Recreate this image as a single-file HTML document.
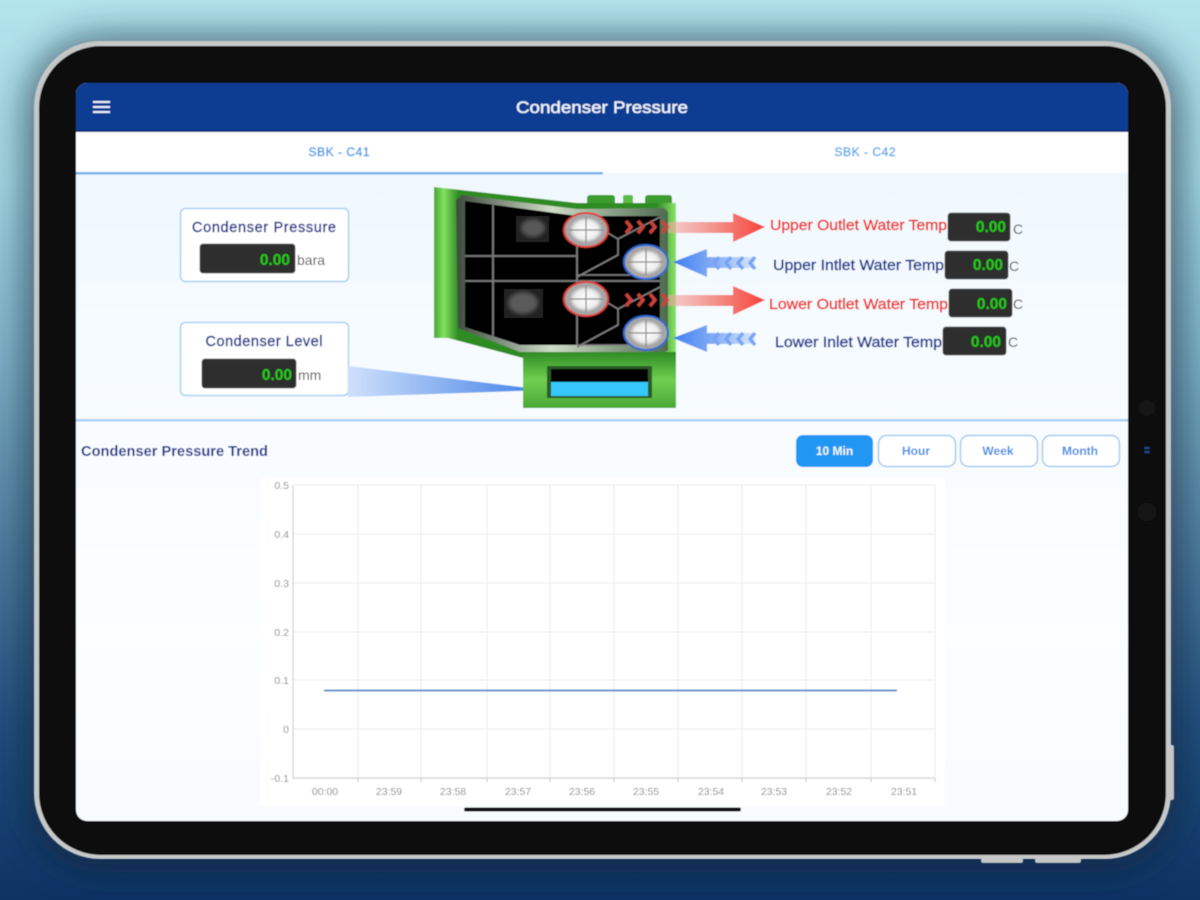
<!DOCTYPE html>
<html><head><meta charset="utf-8"><title>Condenser Pressure</title>
<style>
html,body{margin:0;padding:0;width:1200px;height:900px;overflow:hidden;background:#123a6a}
svg{display:block}
text{font-family:"Liberation Sans",sans-serif;paint-order:stroke}
.b{stroke-width:.4}
</style></head><body>
<svg width="1200" height="900" viewBox="0 0 1200 900" xmlns="http://www.w3.org/2000/svg">
<defs>
<linearGradient id="bg" x1="0" y1="0" x2="0" y2="1">
<stop offset="0" stop-color="#b3e3eb"/><stop offset=".2" stop-color="#a4d6e1"/><stop offset=".4" stop-color="#7fb0c6"/><stop offset=".6" stop-color="#527f9f"/><stop offset=".8" stop-color="#24507f"/><stop offset="1" stop-color="#0e3363"/>
</linearGradient>
<linearGradient id="content" x1="0" y1="0" x2="0" y2="1"><stop offset="0" stop-color="#edf7fe"/><stop offset=".45" stop-color="#f8fcff"/><stop offset=".75" stop-color="#fcfeff"/><stop offset="1" stop-color="#f8fcfe"/></linearGradient>
<linearGradient id="green" x1="0" y1="0" x2="1" y2="0"><stop offset="0" stop-color="#46a834"/><stop offset=".04" stop-color="#83e060"/><stop offset=".1" stop-color="#2f8c24"/><stop offset=".92" stop-color="#2f8c24"/><stop offset="1" stop-color="#8ce468"/></linearGradient>
<linearGradient id="green2" x1="0" y1="0" x2="0" y2="1"><stop offset="0" stop-color="#2f8c24"/><stop offset=".5" stop-color="#6fd050"/><stop offset="1" stop-color="#4aa836"/></linearGradient>
<linearGradient id="frame" x1="0" y1="0" x2="1" y2="0"><stop offset="0" stop-color="#3e4a3e"/><stop offset=".45" stop-color="#cfdcc8"/><stop offset="1" stop-color="#4e6a4e"/></linearGradient>
<linearGradient id="red" x1="668" y1="0" x2="765" y2="0" gradientUnits="userSpaceOnUse"><stop offset="0" stop-color="#f4a8a4" stop-opacity=".55"/><stop offset=".5" stop-color="#f48f88"/><stop offset="1" stop-color="#f6413a"/></linearGradient>
<linearGradient id="blue" x1="673" y1="0" x2="755" y2="0" gradientUnits="userSpaceOnUse"><stop offset="0" stop-color="#3f7ef4"/><stop offset=".55" stop-color="#8db2f6"/><stop offset="1" stop-color="#dbe8fb"/></linearGradient>
<linearGradient id="wedge" x1="348" y1="0" x2="545" y2="0" gradientUnits="userSpaceOnUse"><stop offset="0" stop-color="#cfe0fb"/><stop offset="1" stop-color="#3f7ee8"/></linearGradient>
<radialGradient id="glass"><stop offset="0" stop-color="#fff"/><stop offset=".7" stop-color="#eee"/><stop offset="1" stop-color="#a5a5a5"/></radialGradient>
<filter id="soft" x="-2%" y="-2%" width="104%" height="104%"><feGaussianBlur stdDeviation=".65"/></filter>
<filter id="shadow" x="-10%" y="-10%" width="120%" height="120%"><feGaussianBlur stdDeviation="18"/></filter>
<filter id="smudge"><feGaussianBlur stdDeviation="2.2"/></filter>
<g id="valve-lines" fill="none" stroke="#7d7d7d" stroke-width="1.6">
<path d="M608 233L618 239L660 217M618 239V255L577 277M577 275H660"/>
</g>
<g id="chev" fill="none" stroke-width="3.4"><path d="M0 -6L5 0L0 6M12 -6L17 0L12 6M24 -6L29 0L24 6M36 -6L41 0L36 6"/></g>
</defs>
<rect width="1200" height="900" fill="url(#bg)"/>
<rect x="26" y="36" width="1154" height="836" rx="75" fill="#0a2138" opacity=".62" filter="url(#shadow)"/>
<g filter="url(#soft)">
<!-- device -->
<rect x="1164" y="745" width="10" height="55" rx="2" fill="#c4c6c6"/>
<rect x="981" y="852" width="42" height="11" rx="2" fill="#c4c6c6"/>
<rect x="1035" y="852" width="46" height="11" rx="2" fill="#c4c6c6"/>
<rect x="34" y="41" width="1137" height="818" rx="66" fill="#c6c8c8"/>
<rect x="39" y="46" width="1127" height="809" rx="62" fill="#111"/>
<rect x="1144.500" y="447" width="5" height="2" fill="#1c4a92"/><rect x="1144.500" y="451" width="5" height="2" fill="#1c4a92"/>
<circle cx="1147" cy="512" r="9" fill="#171717"/>
<circle cx="1147" cy="408" r="8" fill="#161616"/>
<!-- screen -->
<clipPath id="scr"><rect x="76" y="83" width="1052" height="738" rx="11"/></clipPath>
<g clip-path="url(#scr)">
<rect x="76" y="83" width="1052" height="738" fill="url(#content)"/>
<rect x="76" y="83" width="1052" height="49" fill="#113e93"/>
<rect x="76" y="130" width="1052" height="2" fill="#0a3180"/>
<rect x="76" y="132" width="1052" height="41" fill="#fff"/>
<rect x="76" y="172" width="527" height="2.5" fill="#74b3ee"/>
<rect x="76" y="419" width="1052" height="2.5" fill="#a9d2f6"/>
</g>
<rect x="93" y="101" width="17" height="2" fill="#e8f0fa"/><rect x="93" y="106" width="17" height="2" fill="#e8f0fa"/><rect x="93" y="111" width="17" height="2" fill="#e8f0fa"/>
<text class="b" x="602" y="113" font-size="17" fill="#eef4fc" stroke="#eef4fc" text-anchor="middle" textLength="172" lengthAdjust="spacingAndGlyphs">Condenser Pressure</text>
<text class="b" x="339" y="156" font-size="12" fill="#4d9cec" stroke="#4d9cec" text-anchor="middle" textLength="61">SBK - C41</text>
<text class="b" x="865" y="156" font-size="12" fill="#62aaee" stroke="#62aaee" text-anchor="middle" textLength="61">SBK - C42</text>

<!-- cards -->
<rect x="180.500" y="208.500" width="168" height="73" rx="5" fill="#fff" stroke="#a9d0f5" stroke-width="1.500"/>
<rect x="180.500" y="322.500" width="168" height="73" rx="5" fill="#fff" stroke="#a9d0f5" stroke-width="1.500"/>
<text class="b" x="264" y="232" font-size="14.500" fill="#26398a" stroke="#26398a" text-anchor="middle" textLength="144">Condenser Pressure</text>
<text class="b" x="264" y="346" font-size="14.500" fill="#26398a" stroke="#26398a" text-anchor="middle" textLength="117">Condenser Level</text>
<rect x="200" y="244" width="95" height="29" rx="3" fill="#2e2e2e" stroke="#555" stroke-width=".8"/>
<rect x="202" y="359" width="94" height="29" rx="3" fill="#2e2e2e" stroke="#555" stroke-width=".8"/>
<text x="290" y="265" font-size="15.500" fill="#20cc14" text-anchor="end" font-weight="bold">0.00</text>
<text x="292" y="380" font-size="15.500" fill="#20cc14" text-anchor="end" font-weight="bold">0.00</text>
<text x="297" y="265" font-size="14" fill="#555">bara</text>
<text x="298" y="380" font-size="14" fill="#555">mm</text>
<polygon points="348,366 545,390 348,397" fill="url(#wedge)"/>

<!-- condenser -->
<rect x="587" y="195" width="28" height="12" rx="3" fill="#3d9c2e"/><rect x="623" y="195" width="10" height="12" rx="2" fill="#5cbc44"/><rect x="645" y="195" width="27" height="12" rx="3" fill="#3d9c2e"/>
<polygon points="434,187 577,203 676,203 676,408 523,408 523,358 448,338 434,338" fill="url(#green)"/>
<rect x="523" y="352" width="153" height="56" fill="url(#green2)"/>
<polygon points="462,195 577,209 664,208 668,212 668,350 664,352 520,352 458,328 456,200" fill="url(#frame)"/>
<polygon points="465,201 577,216 660,216 660,345 520,345 465,327" fill="#050505"/>
<g fill="none" stroke="#7d7d7d" stroke-width="1.800">
<path d="M493 205V336M465 256H577M465 281H660M577 216V345"/>
</g>
<use href="#valve-lines"/>
<use href="#valve-lines" y="70"/>
<rect x="516" y="216" width="33" height="26" fill="#222"/><ellipse cx="533" cy="228" rx="12" ry="9" fill="#585858" filter="url(#smudge)"/>
<rect x="504" y="289" width="39" height="29" fill="#222"/><ellipse cx="523" cy="303" rx="15" ry="11" fill="#5a5a5a" filter="url(#smudge)"/>
<g>
<g transform="translate(586,230)"><ellipse rx="22" ry="17" fill="#a5a5a5" stroke="#e0433e" stroke-width="2"/><ellipse rx="17" ry="13" fill="url(#glass)"/><path d="M-17 0H17M0 -13V13" stroke="#888" stroke-width="1.200"/></g>
<g transform="translate(646,262)"><ellipse rx="22" ry="17" fill="#a5a5a5" stroke="#2f6bd8" stroke-width="2"/><ellipse rx="17" ry="13" fill="url(#glass)"/><path d="M-17 0H17M0 -13V13" stroke="#888" stroke-width="1.200"/></g>
<g transform="translate(586,299)"><ellipse rx="22" ry="17" fill="#a5a5a5" stroke="#e0433e" stroke-width="2"/><ellipse rx="17" ry="13" fill="url(#glass)"/><path d="M-17 0H17M0 -13V13" stroke="#888" stroke-width="1.200"/></g>
<g transform="translate(646,333)"><ellipse rx="22" ry="17" fill="#a5a5a5" stroke="#2f6bd8" stroke-width="2"/><ellipse rx="17" ry="13" fill="url(#glass)"/><path d="M-17 0H17M0 -13V13" stroke="#888" stroke-width="1.200"/></g>
</g>
<!-- level window -->
<rect x="547" y="366" width="105" height="32" fill="#2c5a26"/>
<rect x="551" y="369" width="97" height="13" fill="#050505"/>
<rect x="551" y="382" width="97" height="14" fill="#36c8f8"/>

<!-- arrows -->
<polygon points="668,222 733,222 733,213 765,227 733,242 733,233 668,233" fill="url(#red)"/>
<polygon points="668,295 733,295 733,286 765,300 733,315 733,306 668,306" fill="url(#red)"/>
<polygon points="673,262 707,249 707,257 755,257 755,268 707,268 707,277" fill="url(#blue)"/>
<polygon points="673,338 707,325 707,333 755,333 755,344 707,344 707,352" fill="url(#blue)"/>
<use href="#chev" x="626" y="227" stroke="#c8433a"/>
<use href="#chev" x="626" y="300" stroke="#c8433a"/>
<g stroke="#78a4f4"><use href="#chev" transform="translate(755,263) scale(-1,1)"/><use href="#chev" transform="translate(755,339) scale(-1,1)"/></g>

<!-- temps -->
<text class="b" x="770" y="230" font-size="14.500" fill="#f0342e" stroke="#f0342e" textLength="177" lengthAdjust="spacingAndGlyphs">Upper Outlet Water Temp</text>
<text class="b" x="773" y="270" font-size="14.500" fill="#22398f" stroke="#22398f" textLength="171" lengthAdjust="spacingAndGlyphs">Upper Intlet Water Temp</text>
<text class="b" x="769" y="309" font-size="14.500" fill="#f0342e" stroke="#f0342e" textLength="179" lengthAdjust="spacingAndGlyphs">Lower Outlet Water Temp</text>
<text class="b" x="775" y="347" font-size="14.500" fill="#22398f" stroke="#22398f" textLength="167" lengthAdjust="spacingAndGlyphs">Lower Inlet Water Temp</text>
<rect x="948" y="213" width="62" height="28" rx="3" fill="#2e2e2e" stroke="#555" stroke-width=".8"/>
<rect x="945" y="251" width="63" height="28" rx="3" fill="#2e2e2e" stroke="#555" stroke-width=".8"/>
<rect x="949" y="289" width="63" height="28" rx="3" fill="#2e2e2e" stroke="#555" stroke-width=".8"/>
<rect x="943" y="327" width="63" height="28" rx="3" fill="#2e2e2e" stroke="#555" stroke-width=".8"/>
<g font-size="15.500" fill="#20cc14" text-anchor="end" font-weight="bold">
<text x="1006" y="232">0.00</text><text x="1003" y="270">0.00</text><text x="1007" y="309">0.00</text><text x="1001" y="347">0.00</text>
</g>
<g font-size="14" fill="#555"><text x="1013" y="234">C</text><text x="1009" y="271">C</text><text x="1013" y="309">C</text><text x="1008" y="347">C</text></g>

<!-- trend header -->
<text x="81" y="456" font-size="14.500" fill="#22398a" textLength="187" font-weight="bold" lengthAdjust="spacingAndGlyphs">Condenser Pressure Trend</text>
<rect x="796" y="435" width="77" height="32" rx="7" fill="#2196f3"/>
<g fill="#fff" stroke="#a5c9ee" stroke-width="1.500"><rect x="878.500" y="435.500" width="77" height="31" rx="8"/><rect x="960.500" y="435.500" width="77" height="31" rx="8"/><rect x="1042.500" y="435.500" width="77" height="31" rx="8"/></g>
<text x="834.500" y="455" font-size="12" fill="#f2f8ff" font-weight="bold" text-anchor="middle">10 Min</text>
<g font-size="12" fill="#3f8ce6" font-weight="bold" text-anchor="middle"><text x="916" y="455">Hour</text><text x="998" y="455">Week</text><text x="1080" y="455">Month</text></g>

<!-- chart -->
<rect x="260" y="478" width="685" height="328" fill="#fff"/>
<g stroke="#ececec" stroke-width="1">
<path d="M293 485H935M293 534H935M293 583H935M293 632H935M293 680H935M293 729H935"/>
<path d="M358 485V778M421 485V778M487 485V778M550 485V778M614 485V778M678 485V778M742 485V778M806 485V778M871 485V778M935 485V778"/>
</g>
<path d="M293 485V778H935M358 778v4M421 778v4M487 778v4M550 778v4M614 778v4M678 778v4M742 778v4M806 778v4M871 778v4M935 778v4" fill="none" stroke="#d0d0d0" stroke-width="1.200"/>
<line x1="324" y1="690.500" x2="897" y2="690.500" stroke="#5a8fc8" stroke-width="2"/>
<g font-size="10.500" fill="#8c8c8c" text-anchor="end">
<text x="289" y="489">0.5</text><text x="289" y="538">0.4</text><text x="289" y="587">0.3</text><text x="289" y="636">0.2</text><text x="289" y="684">0.1</text><text x="289" y="733">0</text><text x="289" y="782">-0.1</text>
</g>
<g font-size="10.500" fill="#8c8c8c" text-anchor="middle">
<text x="325" y="795">00:00</text><text x="389" y="795">23:59</text><text x="453" y="795">23:58</text><text x="518" y="795">23:57</text><text x="582" y="795">23:56</text><text x="646" y="795">23:55</text><text x="711" y="795">23:54</text><text x="774" y="795">23:53</text><text x="839" y="795">23:52</text><text x="904" y="795">23:51</text>
</g>
<rect x="464" y="807.500" width="277" height="4" rx="2" fill="#0a0a0a"/>
</g>
</svg>
</body></html>
